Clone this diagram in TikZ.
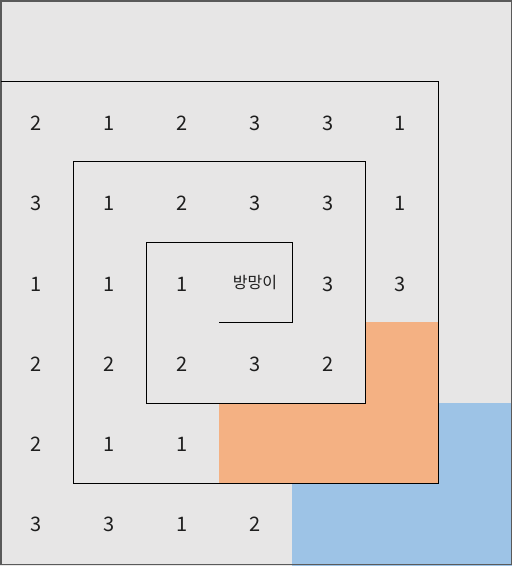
\documentclass[tikz,border=0pt]{standalone}
\usepackage{fontspec}
\setmainfont{Noto Sans CJK KR}
\usepackage{xcolor}
\usepackage{tikz}
\usetikzlibrary{positioning}

\definecolor{cellgray}{HTML}{E7E6E6}
\definecolor{hitorange}{HTML}{F4B183}
\definecolor{hitblue}{HTML}{9DC3E6}
\definecolor{framegray}{HTML}{5A5A5A}
\definecolor{numblack}{HTML}{1E1E1E}

\begin{document}
\begin{tikzpicture}[x=1pt,y=-1pt,thick,num/.style={inner sep=0pt,text=numblack,font=\fontsize{20}{20}\selectfont},bat/.style={inner sep=0pt,text=numblack,font=\fontsize{16}{16}\selectfont},spiral/.style={draw=black,line width=1pt}]

    % Background and frame
	\fill[cellgray] (0,0) rectangle (512,566);
	\useasboundingbox (0,0) rectangle (512,566);

	% Coloured areas
	\fill[hitblue] (292,403) rectangle (512,566);
	\fill[hitorange] (219,403) -- (365,403) -- (365,322) -- (438,322) -- (438,483) -- (219,483) -- cycle;

	\draw[framegray,line width=1.5pt] (0.75,0.75) rectangle (511.25,564.5);

	% The spiral
	\draw[spiral] (0.75,81) -- (438,81) -- (438,483) -- (73,483) -- (73,161) -- (365,161) -- (365,403) -- (146,403) -- (146,242) -- (292,242) -- (292,322) -- (219,322);

	% Row 1
	\node [num] at (36.5,123.5) (r1c1) {2};
	\node [num] at (109.5,123.5) (r1c2) {1};
	\node [num] at (182.5,123.5) (r1c3) {2};
	\node [num] at (255.5,123.5) (r1c4) {3};
	\node [num] at (328.5,123.5) (r1c5) {3};
	\node [num] at (400.5,123.5) (r1c6) {1};

	% Row 2
	\node [num] at (36.5,203.5) (r2c1) {3};
	\node [num] at (109.5,203.5) (r2c2) {1};
	\node [num] at (182.5,203.5) (r2c3) {2};
	\node [num] at (255.5,203.5) (r2c4) {3};
	\node [num] at (328.5,203.5) (r2c5) {3};
	\node [num] at (400.5,203.5) (r2c6) {1};

	% Row 3
	\node [num] at (36.5,284) (r3c1) {1};
	\node [num] at (109.5,284) (r3c2) {1};
	\node [num] at (182.5,284) (r3c3) {1};
	\node [bat] at (255,283) (r3c4) {방망이};
	\node [num] at (328.5,284) (r3c5) {3};
	\node [num] at (400.5,284) (r3c6) {3};

	% Row 4
	\node [num] at (36.5,364) (r4c1) {2};
	\node [num] at (109.5,364) (r4c2) {2};
	\node [num] at (182.5,364) (r4c3) {2};
	\node [num] at (255.5,364) (r4c4) {3};
	\node [num] at (328.5,364) (r4c5) {2};

	% Row 5
	\node [num] at (36.5,444) (r5c1) {2};
	\node [num] at (109.5,444) (r5c2) {1};
	\node [num] at (182.5,444) (r5c3) {1};

	% Row 6
	\node [num] at (36.5,524) (r6c1) {3};
	\node [num] at (109.5,524) (r6c2) {3};
	\node [num] at (182.5,524) (r6c3) {1};
	\node [num] at (255.5,524) (r6c4) {2};

\end{tikzpicture}
\end{document}
